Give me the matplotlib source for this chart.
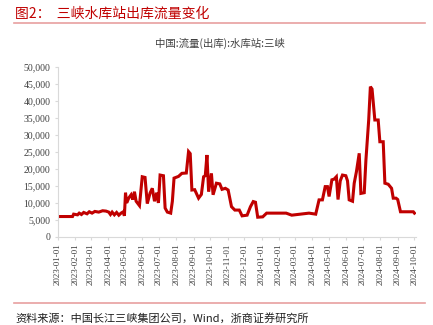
import matplotlib
matplotlib.use('Agg')
import matplotlib.pyplot as plt
import matplotlib.dates as mdates
import matplotlib.ticker as mticker
import pandas as pd

plt.rcParams['font.family'] = ['Noto Sans CJK SC', 'DejaVu Sans']

title = '图2：  三峡水库站出库流量变化'
subtitle = '中国:流量(出库):水库站:三峡'
source = '资料来源：中国长江三峡集团公司，Wind，浙商证券研究所'

dates = [
    '2023-01-01', '2023-01-27', '2023-01-29', '2023-02-05', '2023-02-08', '2023-02-12',
    '2023-02-16', '2023-02-22', '2023-02-26', '2023-03-03', '2023-03-08', '2023-03-15',
    '2023-03-22', '2023-03-28', '2023-04-02', '2023-04-05', '2023-04-08', '2023-04-12',
    '2023-04-16', '2023-04-20', '2023-04-24', '2023-04-28', '2023-04-30', '2023-05-02',
    '2023-05-04', '2023-05-08', '2023-05-12', '2023-05-15', '2023-05-18', '2023-05-21',
    '2023-05-27', '2023-06-01', '2023-06-06', '2023-06-10', '2023-06-15', '2023-06-19',
    '2023-06-23', '2023-06-27', '2023-06-30', '2023-07-03', '2023-07-09', '2023-07-12',
    '2023-07-16', '2023-07-22', '2023-07-25', '2023-07-28', '2023-08-05', '2023-08-11',
    '2023-08-19', '2023-08-23', '2023-08-26', '2023-08-29', '2023-09-03', '2023-09-10',
    '2023-09-15', '2023-09-19', '2023-09-22', '2023-09-25', '2023-09-28', '2023-10-03',
    '2023-10-06', '2023-10-12', '2023-10-18', '2023-10-22', '2023-10-28', '2023-11-02',
    '2023-11-08', '2023-11-14', '2023-11-22', '2023-11-27', '2023-12-06', '2023-12-12',
    '2023-12-17', '2023-12-21', '2023-12-25', '2024-01-03', '2024-01-10', '2024-02-14',
    '2024-02-24', '2024-03-26', '2024-04-07', '2024-04-13', '2024-04-19', '2024-04-24',
    '2024-04-28', '2024-05-01', '2024-05-06', '2024-05-10', '2024-05-14', '2024-05-17',
    '2024-05-21', '2024-05-25', '2024-05-31', '2024-06-03', '2024-06-06', '2024-06-12',
    '2024-06-15', '2024-06-19', '2024-06-24', '2024-06-27', '2024-07-03', '2024-07-06',
    '2024-07-11', '2024-07-14', '2024-07-17', '2024-07-22', '2024-07-28', '2024-07-31',
    '2024-08-06', '2024-08-09', '2024-08-15', '2024-08-21', '2024-08-24', '2024-08-29',
    '2024-09-01', '2024-09-06', '2024-09-29', '2024-10-01',
]
outflow = [
    6000, 6000, 6700, 6500, 7000, 6600,
    7200, 6800, 7400, 7000, 7500, 7300,
    7700, 7600, 7300, 6600, 7300, 6500,
    7200, 6400, 7000, 7400, 6200, 13000,
    10000, 11500, 12400, 11000, 13300, 10500,
    9200, 17700, 17500, 9800, 12900, 14300,
    10500, 13000, 10000, 18200, 18000, 8500,
    7300, 7000, 10500, 17300, 17800, 18700,
    18800, 25100, 24500, 13800, 13900, 11400,
    12500, 17700, 18000, 24100, 13300, 18700,
    12400, 15800, 15600, 14000, 14300, 13800,
    8900, 7900, 7900, 6200, 6400, 8900,
    10400, 10200, 5800, 5900, 7000, 7000,
    6400, 7000, 6700, 10900, 10900, 14800,
    14800, 11900, 16800, 17000, 17700, 11000,
    16500, 18200, 18000, 16500, 10900, 10500,
    15800, 19200, 24600, 12800, 13000, 22600,
    34400, 44200, 43500, 34400, 34400, 28000,
    28000, 15800, 15500, 14300, 11400, 11400,
    11000, 7400, 7400, 7000,
]

x = pd.to_datetime(dates)

fig = plt.figure(figsize=(4.33, 3.25), dpi=100)
ax = fig.add_axes([0.134, 0.271, 0.827, 0.523])

ax.plot(x, outflow, color='#c00000', linewidth=2.2, solid_joinstyle='miter')

ax.set_ylim(0, 50000)
ax.set_xlim(pd.Timestamp('2023-01-01'), pd.Timestamp('2024-10-04'))
ax.yaxis.set_major_locator(mticker.MultipleLocator(5000))
ax.yaxis.set_major_formatter(mticker.FuncFormatter(lambda v, p: f'{int(v):,}'))
ax.xaxis.set_major_locator(mdates.MonthLocator())
ax.xaxis.set_major_formatter(mdates.DateFormatter('%Y-%m-%d'))

for s in ['top', 'right']:
    ax.spines[s].set_visible(False)
for s in ['left', 'bottom']:
    ax.spines[s].set_color('#d9d9d9')
    ax.spines[s].set_linewidth(0.8)
ax.tick_params(axis='both', colors='#d9d9d9', length=2.5, width=0.8)
ax.tick_params(axis='y', labelcolor='#404040', labelsize=7, pad=3)
ax.tick_params(axis='x', labelcolor='#404040', labelsize=6.5, rotation=90, pad=2)
for lbl in ax.get_xticklabels() + ax.get_yticklabels():
    lbl.set_fontfamily('Liberation Serif')

fig.text(0.035, 0.958, title, color='#c00000', fontsize=10, va='center', ha='left')
fig.add_artist(plt.Line2D([0.033, 0.982], [0.928, 0.928], color='#e8a0a0', linewidth=1.2))
fig.text(0.508, 0.866, subtitle, color='#404040', fontsize=7.5, va='center', ha='center')
fig.add_artist(plt.Line2D([0.033, 0.982], [0.068, 0.068], color='#e8a0a0', linewidth=1.2))
fig.text(0.035, 0.022, source, color='#202020', fontsize=8, va='center', ha='left')

fig.savefig('out.png', dpi=100)
